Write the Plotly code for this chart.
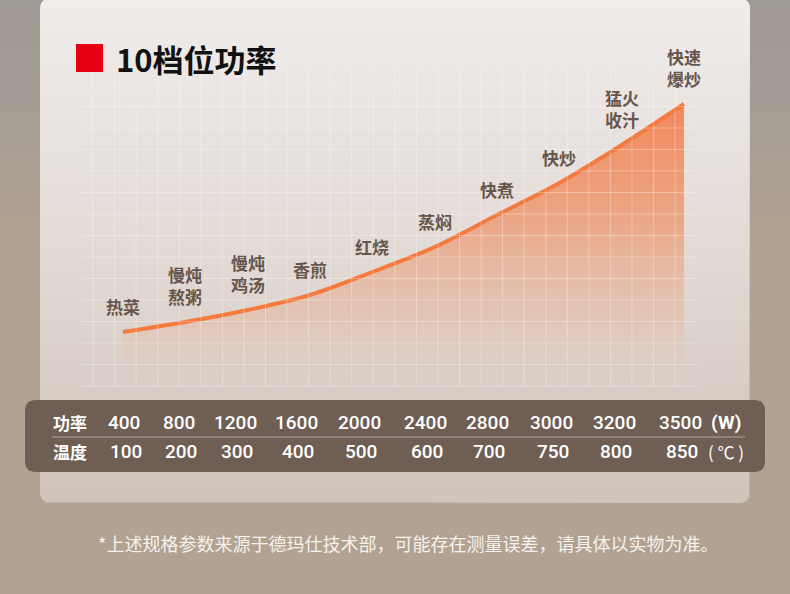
import numpy as np
import plotly.graph_objects as go

# 10 gears: dish label, power (W), temperature (℃)
dishes = ['热菜', '慢炖<br>熬粥', '慢炖<br>鸡汤', '香煎', '红烧', '蒸焖', '快煮', '快炒', '猛火<br>收汁', '快速<br>爆炒']
gear = list(range(1, 11))
power_w = [400, 800, 1200, 1600, 2000, 2400, 2800, 3000, 3200, 3500]
temp_c = [100, 200, 300, 400, 500, 600, 700, 750, 800, 850]
# height of the power curve above its baseline at each gear
curve_level = [58, 68, 80, 95, 118, 143, 175, 207, 245, 286]

W, H = 790, 594
# gear 1 sits at 123px, gear 10 at 684px, fill baseline at 390px
step = (684 - 123) / 9
x_rng = [1 - 123 / step, 1 + (W - 123) / step]
y_rng = [-(H - 390), 390]
col_x = [124, 179, 235, 296, 359, 425, 487, 551, 614, 680]

FONT = 'Noto Sans CJK SC'
NUM_FONT = 'Roboto'
LABEL_C = '#67564c'


def rounded_pts(x0, y0, x1, y1, r, n=10):
    xs, ys = [], []
    for cx, cy, a in [(x0 + r, y0 + r, np.pi), (x1 - r, y0 + r, 1.5 * np.pi),
                      (x1 - r, y1 - r, 0), (x0 + r, y1 - r, 0.5 * np.pi)]:
        t = np.linspace(a, a + 0.5 * np.pi, n)
        xs += list(cx + r * np.cos(t))
        ys += list(cy + r * np.sin(t))
    return xs + [xs[0]], ys + [ys[0]]


def rounded_path(x0, y0, x1, y1, r):
    return (f'M{x0 + r},{y0} L{x1 - r},{y0} Q{x1},{y0} {x1},{y0 + r} '
            f'L{x1},{y1 - r} Q{x1},{y1} {x1 - r},{y1} L{x0 + r},{y1} '
            f'Q{x0},{y1} {x0},{y1 - r} L{x0},{y0 + r} Q{x0},{y0} {x0 + r},{y0} Z')


fig = go.Figure()

# stone-ish backdrop at the top fading into beige
fig.add_trace(go.Scatter(
    x=[0, W, W, 0, 0], y=[0, 0, H, H, 0], mode='lines', line_width=0,
    fill='toself', hoverinfo='skip',
    fillgradient=dict(type='vertical', start=0, stop=H,
                      colorscale=[[0, '#a09a94'], [0.2, '#a69e95'],
                                  [0.38, '#b0a191'], [1, '#b1a292']])))

# card
cx, cy = rounded_pts(40, -2, 750, 503, 10)
fig.add_trace(go.Scatter(
    x=cx, y=cy, mode='lines', line_width=0, fill='toself', hoverinfo='skip',
    fillgradient=dict(type='vertical', start=0, stop=503,
                      colorscale=[[0, '#f0edeb'], [0.5, '#e2dad5'], [1, '#d0c3b9']])))

# power curve with gradient fill
fig.add_trace(go.Scatter(
    x=gear, y=curve_level, xaxis='x2', yaxis='y2', mode='lines',
    line=dict(color='#f47a40', width=4, shape='spline'),
    fill='tozeroy', hoverinfo='skip',
    fillgradient=dict(type='vertical', start=0, stop=max(curve_level),
                      colorscale=[[0, 'rgba(230,200,185,0)'],
                                  [0.25, 'rgba(234,170,135,0.35)'],
                                  [0.6, 'rgba(238,145,100,0.72)'],
                                  [1, 'rgba(241,128,80,0.92)']])))

# dish labels above each gear
for g, lv, name in zip(gear, curve_level, dishes):
    fig.add_annotation(x=g, y=lv, xref='x2', yref='y2', text=name, showarrow=False,
                       yanchor='middle', yshift=37 if '<br>' in name else 26,
                       font=dict(family=FONT, size=17, color=LABEL_C, weight='bold'))

# grid
grid = ''
for k in range(28):
    gx = 93 + k * 21.56
    grid += f'M{gx:.1f},68 L{gx:.1f},386 '
for k in range(15):
    gy = 85 + k * 21.5
    grid += f'M82,{gy:.1f} L698,{gy:.1f} '

shapes = [
    dict(type='path', path=grid, xref='x', yref='y', layer='above',
         line=dict(color='rgba(255,255,255,0.3)', width=1)),
    dict(type='rect', x0=76, x1=103, y0=44, y1=72, xref='x', yref='y',
         fillcolor='#e60012', line_width=0),
    dict(type='path', path=rounded_path(25, 400, 765, 472, 11), xref='x', yref='y',
         fillcolor='#6e5e54', line_width=0, layer='above'),
    dict(type='line', x0=52, x1=745, y0=437, y1=437, xref='x', yref='y',
         line=dict(color='rgba(255,255,255,0.45)', width=1), layer='above'),
]

ann = dict(xref='x', yref='y', showarrow=False)
fig.add_annotation(x=114, y=58, text='10档位功率', xanchor='left', **ann,
                   font=dict(family=FONT, size=31, color='#111111', weight='bold'))

# table rows
white = dict(family=FONT, size=17, color='#ffffff', weight='bold')
num = dict(family=NUM_FONT, size=19, color='#ffffff', weight=500)
fig.add_annotation(x=70, y=422, text='功率', **ann, font=white)
fig.add_annotation(x=70, y=451, text='温度', **ann, font=white)
for px, p, t in zip(col_x, power_w, temp_c):
    fig.add_annotation(x=px, y=422, text=str(p), **ann, font=num)
    fig.add_annotation(x=px + 2, y=451, text=str(t), **ann, font=num)
fig.add_annotation(x=726, y=422, text='(W)', **ann, font=dict(num, weight='bold'))
fig.add_annotation(x=726, y=451, text='( ℃ )', **ann, font=dict(white, weight='normal'))

fig.add_annotation(x=408, y=543, **ann,
                   text='*上述规格参数来源于德玛仕技术部，可能存在测量误差，请具体以实物为准。',
                   font=dict(family=FONT, size=18, color='#f6f2ec'))

fig.update_layout(
    width=W, height=H, margin=dict(l=0, r=0, t=0, b=0),
    paper_bgcolor='#b1a292', plot_bgcolor='rgba(0,0,0,0)', showlegend=False,
    shapes=shapes,
    xaxis=dict(range=[0, W], domain=[0, 1], visible=False),
    yaxis=dict(range=[H, 0], domain=[0, 1], visible=False),
    xaxis2=dict(range=x_rng, overlaying='x', visible=False),
    yaxis2=dict(range=y_rng, overlaying='y', visible=False),
)

# drop the default page margin so the figure fills the window
fig.write_html('out.html', config={'displayModeBar': False},
               post_script="document.body.style.margin='0';")
